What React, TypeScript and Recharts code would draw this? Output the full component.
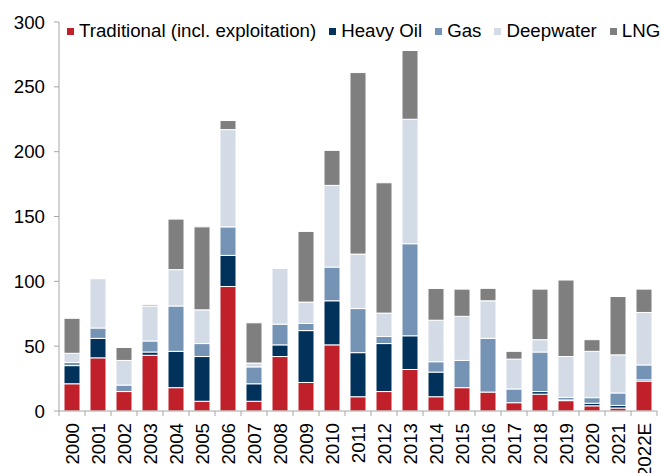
import { BarChart, Bar, XAxis, YAxis } from "recharts";

const years = [
  "2000", "2001", "2002", "2003", "2004", "2005", "2006", "2007", "2008", "2009", "2010", "2011",
  "2012", "2013", "2014", "2015", "2016", "2017", "2018", "2019", "2020", "2021", "2022E",
];
const traditional = [21, 41, 15, 43, 18, 7.5, 96, 7.5, 42, 22, 51, 11, 15, 32, 11, 18, 14.6, 6.4, 13, 8, 4, 2.3, 23];
const heavyOil = [14, 15, 0, 2.5, 28, 34.5, 24, 13.5, 9, 40, 34, 34, 37, 26, 19, 0, 0, 0, 2, 0.5, 2, 2, 1];
const gas = [2.5, 8, 5, 8.5, 35, 10, 22, 13, 16, 5.5, 26, 34, 5.5, 71, 8, 21, 41.4, 10.6, 30.5, 2, 4.3, 9.6, 11.5];
const deepwater = [7, 38, 19, 27, 28, 26, 75, 3, 43, 16.5, 63, 42, 18, 96, 32, 34, 29, 23, 9.5, 31.5, 35.7, 29.4, 40.5];
const lng = [27, 0, 10, 1, 39, 64, 7, 31, 0, 54.5, 27, 140, 100.5, 53, 24.5, 21, 9.6, 6, 39, 59, 9, 45, 18];
const yTicks = [0, 50, 100, 150, 200, 250, 300];

const SERIES = [
  { key: "traditional", name: "Traditional (incl. exploitation)", color: "#C0202A" },
  { key: "heavyOil", name: "Heavy Oil", color: "#00325C" },
  { key: "gas", name: "Gas", color: "#7593B5" },
  { key: "deepwater", name: "Deepwater", color: "#D3DBE7" },
  { key: "lng", name: "LNG", color: "#7F7F7F" },
];

const data = years.map((year, i) => ({
  year,
  traditional: traditional[i],
  heavyOil: heavyOil[i],
  gas: gas[i],
  deepwater: deepwater[i],
  lng: lng[i],
}));

const FONT = "'Liberation Sans', Arial, sans-serif";
const AXIS_COLOR = "#A6A6A6";

// year label plus Excel-style tick marks between categories
function YearTick(props: any) {
  const { x, y, payload, index, width, visibleTicksCount } = props;
  const step = width / visibleTicksCount;
  const axisY = y - 12;
  return (
    <g>
      <line x1={x - step / 2} x2={x - step / 2} y1={axisY} y2={axisY + 5} stroke={AXIS_COLOR} />
      {index === visibleTicksCount - 1 && (
        <line x1={x + step / 2} x2={x + step / 2} y1={axisY} y2={axisY + 5} stroke={AXIS_COLOR} />
      )}
      <text
        x={x}
        y={y}
        transform={`rotate(-90, ${x}, ${y})`}
        textAnchor="end"
        dominantBaseline="central"
        fill="#000"
        fontSize={18.7}
        fontFamily={FONT}
      >
        {payload.value}
      </text>
    </g>
  );
}

function ChartLegend() {
  return (
    <div
      style={{
        position: "absolute",
        top: 20,
        left: 67,
        display: "flex",
        alignItems: "center",
        fontFamily: FONT,
        fontSize: 18.7,
        color: "#000",
        whiteSpace: "nowrap",
      }}
    >
      {SERIES.map((s) => (
        <div key={s.key} style={{ display: "flex", alignItems: "center", marginRight: 13 }}>
          <span style={{ width: 7, height: 7, background: s.color, marginRight: 5, display: "inline-block" }} />
          <span>{s.name}</span>
        </div>
      ))}
    </div>
  );
}

export default function App() {
  return (
    <div style={{ position: "absolute", left: 0, top: 0, width: 661, height: 473, background: "#fff" }}>
      <BarChart
        width={661}
        height={473}
        data={data}
        margin={{ top: 22, right: 4, left: 0, bottom: 0 }}
        barSize={16}
      >
        <XAxis
          dataKey="year"
          interval={0}
          height={62}
          tickLine={false}
          tickSize={5}
          tickMargin={7}
          axisLine={{ stroke: AXIS_COLOR }}
          tick={<YearTick />}
        />
        <YAxis
          width={59}
          domain={[0, 300]}
          ticks={yTicks}
          tickSize={5}
          tickMargin={9}
          axisLine={{ stroke: AXIS_COLOR }}
          tickLine={{ stroke: AXIS_COLOR }}
          tick={{ fill: "#000", fontSize: 18.7, fontFamily: FONT }}
        />
        {SERIES.map((s) => (
          <Bar
            key={s.key}
            dataKey={s.key}
            name={s.name}
            stackId="a"
            fill={s.color}
            stroke="#fff"
            strokeWidth={1}
            isAnimationActive={false}
          />
        ))}
      </BarChart>
      <ChartLegend />
    </div>
  );
}
